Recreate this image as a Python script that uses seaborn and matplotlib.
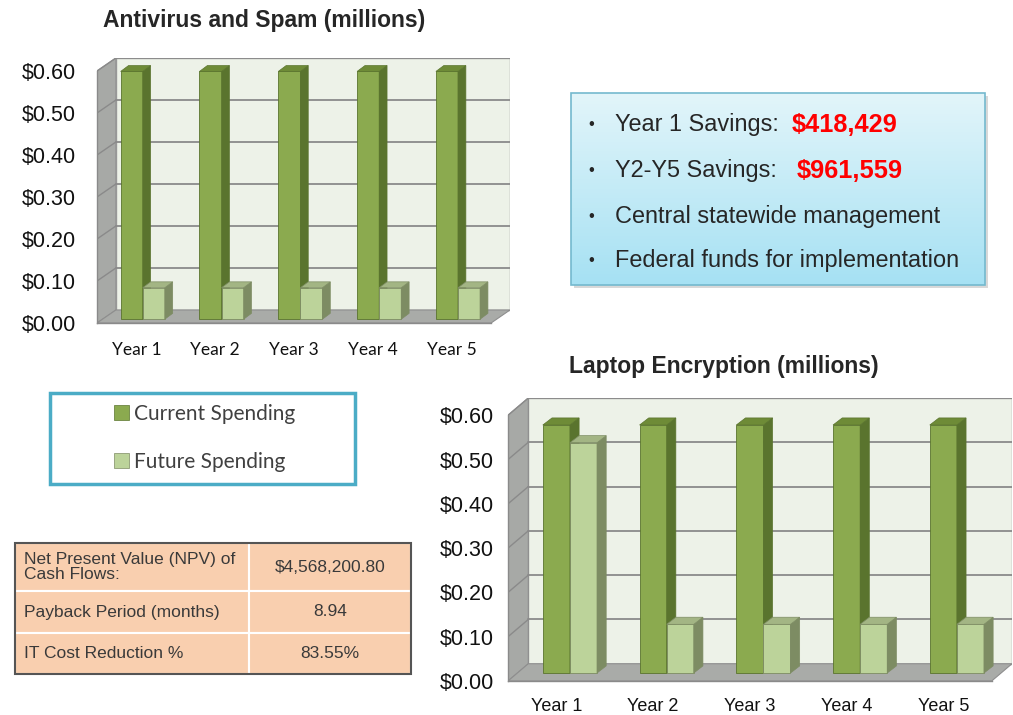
import numpy as np
import pandas as pd
import seaborn as sns
import matplotlib.pyplot as plt
from matplotlib.patches import Polygon, Rectangle, Patch

# Datos
years = ['Year 1', 'Year 2', 'Year 3', 'Year 4', 'Year 5']
series = ['Current Spending', 'Future Spending']
antivirus_current = [0.59, 0.59, 0.59, 0.59, 0.59]
antivirus_future = [0.075, 0.075, 0.075, 0.075, 0.075]
laptop_current = [0.56, 0.56, 0.56, 0.56, 0.56]
laptop_future = [0.52, 0.11, 0.11, 0.11, 0.11]
y_ticks = [0.0, 0.1, 0.2, 0.3, 0.4, 0.5, 0.6]

bullet_labels = ['Year 1 Savings:', 'Y2-Y5 Savings:', 'Central statewide management',
                 'Federal funds for implementation']
bullet_values = ['$418,429', '$961,559', '', '']

table_labels = ['Net Present Value (NPV) of\nCash Flows:', 'Payback Period (months)',
                'IT Cost Reduction %']
table_values = ['$4,568,200.80', '8.94', '83.55%']

# Colores
front_col = ['#8BAA4F', '#BCD39A']
side_col = ['#5A742E', '#7D8C63']
top_col = ['#6E8B37', '#A3B584']

sns.set_style('white')
plt.rcParams['font.family'] = ['Liberation Sans', 'DejaVu Sans']

fig = plt.figure(figsize=(10.13, 7.15), dpi=100)

# Eje de fondo en pixeles para cuadros y tabla
ax_bg = fig.add_axes([0, 0, 1, 1], zorder=-1)
ax_bg.set_xlim(0, 1013)
ax_bg.set_ylim(715, 0)
ax_bg.axis('off')


def grafico_3d(ax, current, future, wdx, wdy, bdx, bdy, sx, sy, cat_font, cat_size, cat_pad, y_pad):
    ymax = 0.6
    # paredes y piso
    ax.add_patch(Rectangle((-0.5 + wdx, wdy), 5, ymax, fc='#EDF2E8', ec='#A0A0A0', lw=1, zorder=0))
    ax.add_patch(Polygon([(-0.5, 0), (-0.5 + wdx, wdy), (-0.5 + wdx, ymax + wdy), (-0.5, ymax)],
                         fc='#A7A9A6', ec='#8E8E8E', lw=0.8, zorder=0.2))
    ax.add_patch(Polygon([(-0.5, 0), (4.5, 0), (4.5 + wdx, wdy), (-0.5 + wdx, wdy)],
                         fc='#A9ABA8', ec='#8E8E8E', lw=0.8, zorder=0.3))
    for t in y_ticks[1:]:
        ax.plot([-0.5 + wdx, 4.5 + wdx], [t + wdy, t + wdy], color='#8A8A8A', lw=1.3, zorder=0.5)
        ax.plot([-0.5, -0.5 + wdx], [t, t + wdy], color='#8A8A8A', lw=1, zorder=0.5)

    df = pd.DataFrame({
        'year': years * 2,
        'series': [series[0]] * 5 + [series[1]] * 5,
        'value': current + future,
    })
    sns.barplot(data=df, x='year', y='value', hue='series', palette=front_col,
                saturation=1, width=0.56, legend=False, ax=ax)

    # caras laterales y superiores
    for k, cont in enumerate(ax.containers):
        for p in cont:
            p.set_x(p.get_x() + sx)
            p.set_y(sy)
            p.set_zorder(2 + k)
            p.set_edgecolor(side_col[k])
            p.set_linewidth(0.6)
            x0, w, h = p.get_x(), p.get_width(), p.get_height()
            ax.add_patch(Polygon([(x0 + w, sy), (x0 + w + bdx, sy + bdy),
                                  (x0 + w + bdx, sy + h + bdy), (x0 + w, sy + h)],
                                 fc=side_col[k], ec=side_col[k], lw=0.5, zorder=2 + k))
            ax.add_patch(Polygon([(x0, sy + h), (x0 + bdx, sy + h + bdy),
                                  (x0 + w + bdx, sy + h + bdy), (x0 + w, sy + h)],
                                 fc=top_col[k], ec=side_col[k], lw=0.5, zorder=2 + k))

    ax.set_xlim(-0.5, 4.5 + wdx)
    ax.set_ylim(0, ymax + wdy)
    ax.set_facecolor('none')
    ax.set_xlabel('')
    ax.set_ylabel('')
    ax.set_yticks(y_ticks)
    ax.set_yticklabels([f'${t:.2f}' for t in y_ticks], fontsize=15.5, color='#111111')
    ax.set_xticks(range(5))
    ax.set_xticklabels(years, fontsize=cat_size, family=cat_font, color='#111111')
    ax.set_xticks(np.arange(-0.5, 5, 1), minor=True)
    ax.tick_params(axis='x', which='major', length=0, pad=cat_pad)
    ax.tick_params(axis='x', which='minor', length=6, color='#8A8A8A', direction='out')
    ax.tick_params(axis='y', length=5, color='#8A8A8A', direction='out', pad=y_pad)
    for s in ['top', 'right']:
        ax.spines[s].set_visible(False)
    ax.spines['left'].set_bounds(0, ymax)
    ax.spines['bottom'].set_bounds(-0.5, 4.5)
    for s in ['left', 'bottom']:
        ax.spines[s].set_color('#8A8A8A')
        ax.spines[s].set_linewidth(1)


# Grafico 1: Antivirus
ax1 = fig.add_axes([97 / 1013, 1 - 323 / 715, 413 / 1013, 265 / 715])
grafico_3d(ax1, antivirus_current, antivirus_future, 0.24, 0.031, 0.1, 0.014, 0.08, 0.009,
           'Lato', 12.5, 14, 10)
fig.text(264 / 1013, 1 - 20 / 715, 'Antivirus and Spam (millions)', ha='center', va='center',
         fontsize=16.5, fontweight='bold')

# Grafico 2: Laptop
ax2 = fig.add_axes([508 / 1013, 1 - 681 / 715, 504 / 1013, 283 / 715])
grafico_3d(ax2, laptop_current, laptop_future, 0.21, 0.039, 0.095, 0.016, 0.14, 0.018,
           'Liberation Sans', 13, 12.5, 5)
fig.text(724 / 1013, 1 - 366 / 715, 'Laptop Encryption (millions)', ha='center', va='center',
         fontsize=16.5, fontweight='bold')

# Cuadro de ahorros con degradado
ax_bg.add_patch(Rectangle((574, 96), 414, 192, fc='#BFBFBF', ec='none', alpha=0.6, zorder=1))
grad = np.linspace(0, 1, 100).reshape(-1, 1)
grad_cmap = sns.blend_palette(['#E2F5FA', '#A6E1F3'], as_cmap=True)
ax_bg.imshow(grad, extent=[571, 985, 285, 93], cmap=grad_cmap, aspect='auto', zorder=2)
ax_bg.add_patch(Rectangle((571, 93), 414, 192, fc='none', ec='#74B9CE', lw=1.2, zorder=3))
line_y = [125, 171, 216, 260]
value_x = [792, 797]
for i, (lab, val) in enumerate(zip(bullet_labels, bullet_values)):
    ax_bg.text(591, line_y[i], '•', ha='center', va='center', fontsize=12, zorder=4)
    ax_bg.text(615, line_y[i], lab, ha='left', va='center', fontsize=16.9, zorder=4)
    if val:
        ax_bg.text(value_x[i], line_y[i], val, ha='left', va='center', fontsize=18.3,
                   fontweight='bold', color='#FF0000', zorder=4)

# Leyenda
ax_bg.add_patch(Rectangle((50, 393), 305, 91, fc='white', ec='#4BACC6', lw=2.5, zorder=1))
handles = [Patch(fc=front_col[0], ec=side_col[0], lw=0.5),
           Patch(fc=front_col[1], ec=side_col[1], lw=0.5)]
ax_bg.legend(handles, series, loc='center left', bbox_to_anchor=(104, 438),
             bbox_transform=ax_bg.transData, frameon=False, handlelength=0.7,
             handleheight=0.7, handletextpad=0.25, labelspacing=1.35, borderpad=0,
             prop={'family': 'Lato', 'size': 15}, labelcolor='#404040')

# Tabla de indicadores
row_top = [543, 591, 633]
row_bot = [591, 633, 674]
for i in range(3):
    ax_bg.add_patch(Rectangle((15, row_top[i]), 234, row_bot[i] - row_top[i], fc='#F9CFAF',
                              ec='white', lw=1.5, zorder=1))
    ax_bg.add_patch(Rectangle((249, row_top[i]), 162, row_bot[i] - row_top[i], fc='#F9CFAF',
                              ec='white', lw=1.5, zorder=1))
    yc = (row_top[i] + row_bot[i]) / 2
    ax_bg.text(24, yc, table_labels[i], ha='left', va='center', fontsize=12.5, color='#3A3A3A',
               linespacing=1.05, zorder=2)
    ax_bg.text(330, yc, table_values[i], ha='center', va='center', fontsize=12.5,
               color='#3A3A3A', zorder=2)
ax_bg.add_patch(Rectangle((15, 543), 396, 131, fc='none', ec='#555555', lw=1.5, zorder=3))

fig.savefig('out.png', dpi=100)
